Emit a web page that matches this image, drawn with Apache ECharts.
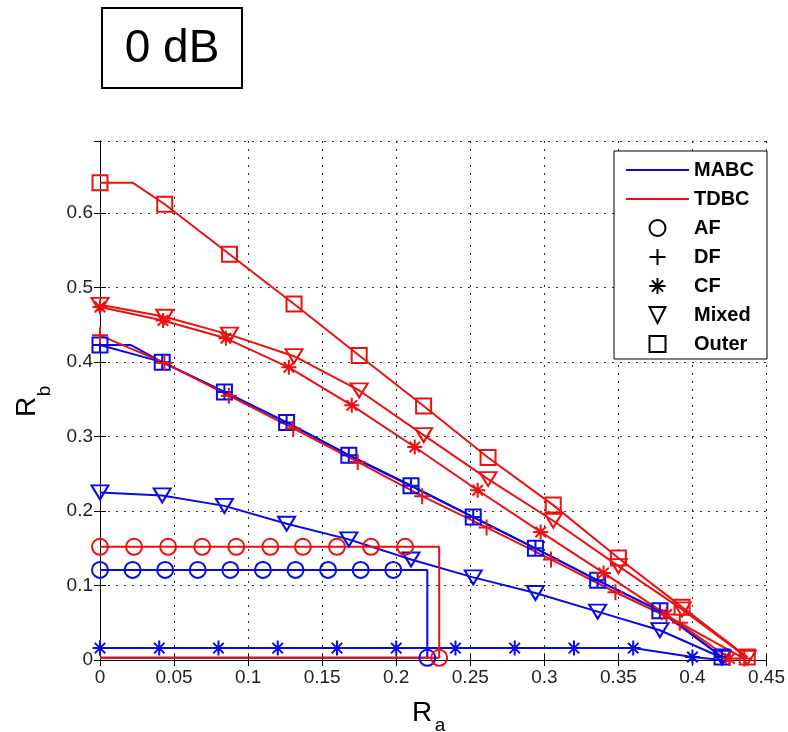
<!DOCTYPE html>
<html>
<head>
<meta charset="utf-8">
<script src="https://cdn.jsdelivr.net/npm/echarts@6/dist/echarts.min.js"></script>
<style>
html, body { margin: 0; padding: 0; background: #fff; }
#container1 { width: 788px; height: 732px; }
</style>
</head>
<body>
<div id="container1"></div>
<script>
// [Ra, Rb] points
var mabcAF = [[0,0.121],[0.022,0.121],[0.044,0.121],[0.066,0.121],[0.088,0.121],[0.110,0.121],[0.132,0.121],[0.154,0.121],[0.176,0.121],[0.198,0.121],[0.221,0.121],[0.221,0.003],[0,0.003]];
var mabcCF = [[0,0.016],[0.04,0.016],[0.08,0.016],[0.12,0.016],[0.16,0.016],[0.2,0.016],[0.24,0.016],[0.28,0.016],[0.32,0.016],[0.36,0.016],[0.4,0.004],[0.42,0]];
var mabcMixed = [[0,0.225],[0.042,0.221],[0.084,0.207],[0.126,0.183],[0.168,0.162],[0.21,0.135],[0.252,0.111],[0.294,0.090],[0.336,0.065],[0.378,0.040],[0.42,0.003]];
var mabcOuter = [[0,0.423],[0.021,0.423],[0.042,0.400],[0.084,0.360],[0.126,0.319],[0.168,0.275],[0.21,0.234],[0.252,0.192],[0.294,0.150],[0.336,0.107],[0.378,0.066],[0.42,0.004]];
var mabcDF = [[0,0.423],[0.042,0.400],[0.084,0.360],[0.126,0.319],[0.168,0.275],[0.21,0.234],[0.252,0.192],[0.294,0.150],[0.336,0.107],[0.378,0.066],[0.42,0.004]];

var tdbcAF = [[0,0.152],[0.023,0.152],[0.046,0.152],[0.069,0.152],[0.092,0.152],[0.115,0.152],[0.137,0.152],[0.160,0.152],[0.183,0.152],[0.206,0.152],[0.229,0.152],[0.229,0.003],[0,0.003]];
var tdbcDF = [[0,0.436],[0.0435,0.399],[0.087,0.355],[0.1305,0.311],[0.174,0.266],[0.2175,0.220],[0.261,0.178],[0.3045,0.135],[0.348,0.091],[0.3915,0.050],[0.435,0.002]];
var tdbcCF = [[0,0.474],[0.0425,0.456],[0.085,0.432],[0.1275,0.393],[0.17,0.342],[0.2125,0.286],[0.255,0.228],[0.2975,0.172],[0.34,0.117],[0.3825,0.061],[0.425,0.002]];
var tdbcMixed = [[0,0.477],[0.0437,0.461],[0.0874,0.437],[0.131,0.408],[0.175,0.362],[0.2185,0.302],[0.262,0.243],[0.306,0.187],[0.35,0.126],[0.393,0.068],[0.437,0.003]];
var tdbcOuter = [[0,0.641],[0.022,0.641],[0.0437,0.612],[0.0874,0.545],[0.131,0.478],[0.175,0.409],[0.2185,0.341],[0.262,0.272],[0.306,0.208],[0.35,0.137],[0.393,0.071],[0.437,0.004]];

// points drawn without a marker (line corners)
var mabcAFNoMark = [10, 12];
var tdbcAFNoMark = [10, 12];
var mabcCFNoMark = [11];
var mabcOuterNoMark = [1];
var tdbcOuterNoMark = [1];

var legendNames = ['MABC', 'TDBC', 'AF', 'DF', 'CF', 'Mixed', 'Outer'];

var BLUE = '#0a0ae8';
var RED = '#ec1010';

var symCircle = 'path://M20,10A10,10,0,1,1,0,10A10,10,0,1,1,20,10Z';
var symSquare = 'path://M0,0L20,0L20,20L0,20Z';
var symTri = 'path://M0,0L20,0L10,17Z';
var symPlus = 'path://M10,0L10,20M0,10L20,10';
var symStar = 'path://M10,0L10,20M0,10L20,10M3,3L17,17M17,3L3,17';

function withMarks(points, noMark) {
    return points.map(function (p, i) {
        return noMark.indexOf(i) >= 0 ? { value: p, symbol: 'none' } : p;
    });
}

function curve(name, data, color, sym, size) {
    return {
        name: name,
        type: 'line',
        data: data,
        symbol: sym,
        symbolSize: size,
        showAllSymbol: true,
        clip: false,
        lineStyle: { color: color, width: 2 },
        itemStyle: { color: 'transparent', borderColor: color, borderWidth: 2 }
    };
}

// legend-only entries (no data)
function legendLine(name, color) {
    return {
        name: name, type: 'line', data: [], symbol: 'none',
        lineStyle: { color: color, width: 2 },
        itemStyle: { color: 'transparent', borderColor: 'transparent', borderWidth: 0 }
    };
}

function legendMark(name, sym) {
    return {
        name: name, type: 'line', data: [], symbol: sym,
        lineStyle: { width: 0, opacity: 0 },
        itemStyle: { color: 'transparent', borderColor: '#000', borderWidth: 2 }
    };
}

var dom = document.getElementById('container1');
var myChart = echarts.init(dom);

var axisFont = 'Liberation Sans, Arial, sans-serif';

option = {
    animation: false,
    backgroundColor: '#fff',
    grid: { left: 100, right: 17, top: 141, bottom: 72, show: false },
    graphic: [
        { type: 'rect', shape: { x: 102, y: 8, width: 140, height: 80 },
          style: { fill: 'none', stroke: '#000', lineWidth: 2 } },
        { type: 'text', x: 172, y: 49,
          style: { text: '0 dB', font: '46px ' + axisFont, fill: '#000', textAlign: 'center', textVerticalAlign: 'middle' } },
        { type: 'text', x: 422, y: 713,
          style: { text: 'R', font: '28px ' + axisFont, fill: '#000', textAlign: 'center', textVerticalAlign: 'middle' } },
        { type: 'text', x: 440, y: 726,
          style: { text: 'a', font: '19px ' + axisFont, fill: '#000', textAlign: 'center', textVerticalAlign: 'middle' } },
        { type: 'text', x: 27, y: 407, rotation: Math.PI / 2,
          style: { text: 'R', font: '28px ' + axisFont, fill: '#000', textAlign: 'center', textVerticalAlign: 'middle' } },
        { type: 'text', x: 45, y: 391, rotation: Math.PI / 2,
          style: { text: 'b', font: '19px ' + axisFont, fill: '#000', textAlign: 'center', textVerticalAlign: 'middle' } }
    ],
    legend: {
        orient: 'vertical',
        left: 614,
        top: 151,
        itemWidth: 63,
        itemHeight: 20,
        itemGap: 9,
        padding: [9, 13, 5, 11],
        backgroundColor: '#fff',
        borderColor: '#000',
        borderWidth: 1,
        selectedMode: false,
        textStyle: { fontSize: 20, fontWeight: 'bold', fontFamily: axisFont, color: '#000' },
        data: legendNames
    },
    xAxis: [
        {
            type: 'value', min: 0, max: 0.45, interval: 0.05, position: 'bottom',
            axisLine: { show: true, lineStyle: { color: '#000', width: 1 } },
            axisTick: { show: true, inside: true, length: 6, lineStyle: { color: '#000' } },
            axisLabel: { color: '#222', fontSize: 19, fontFamily: axisFont, margin: 8 },
            splitLine: { show: true, lineStyle: { color: '#333', width: 1, type: [2, 6] } }
        },
        {
            type: 'value', min: 0, max: 0.45, interval: 0.05, position: 'top',
            axisLine: { show: true, lineStyle: { color: '#000', width: 1 } },
            axisTick: { show: true, inside: true, length: 6, lineStyle: { color: '#000' } },
            axisLabel: { show: false },
            splitLine: { show: false }
        }
    ],
    yAxis: [
        {
            type: 'value', min: 0, max: 0.697, interval: 0.1, position: 'left',
            axisLine: { show: true, lineStyle: { color: '#000', width: 1 } },
            axisTick: { show: true, inside: true, length: 6, lineStyle: { color: '#000' } },
            axisLabel: { color: '#222', fontSize: 19, fontFamily: axisFont, margin: 7, showMaxLabel: false },
            splitLine: { show: true, lineStyle: { color: '#333', width: 1, type: [2, 6] } }
        },
        {
            type: 'value', min: 0, max: 0.697, interval: 0.1, position: 'right',
            axisLine: { show: true, lineStyle: { color: '#000', width: 1 } },
            axisTick: { show: true, inside: true, length: 6, lineStyle: { color: '#000' } },
            axisLabel: { show: false },
            splitLine: { show: false }
        }
    ],
    series: [
        // MABC
        curve('MABC AF', withMarks(mabcAF, mabcAFNoMark), BLUE, symCircle, 16),
        curve('MABC CF', withMarks(mabcCF, mabcCFNoMark), BLUE, symStar, 15),
        curve('MABC Mixed', mabcMixed, BLUE, symTri, [17, 14]),
        curve('MABC Outer', withMarks(mabcOuter, mabcOuterNoMark), BLUE, symSquare, 15),
        curve('MABC DF', mabcDF, BLUE, symPlus, 15),
        // TDBC
        curve('TDBC AF', withMarks(tdbcAF, tdbcAFNoMark), RED, symCircle, 16),
        curve('TDBC DF', tdbcDF, RED, symPlus, 16),
        curve('TDBC CF', tdbcCF, RED, symStar, 15),
        curve('TDBC Mixed', tdbcMixed, RED, symTri, [17, 14]),
        curve('TDBC Outer', withMarks(tdbcOuter, tdbcOuterNoMark), RED, symSquare, 15),
        // legend entries only
        legendLine('MABC', BLUE),
        legendLine('TDBC', RED),
        legendMark('AF', symCircle),
        legendMark('DF', symPlus),
        legendMark('CF', symStar),
        legendMark('Mixed', symTri),
        legendMark('Outer', symSquare)
    ]
};

if (option && typeof option === "object") {
    myChart.setOption(option, true);
}
</script>
</body>
</html>
